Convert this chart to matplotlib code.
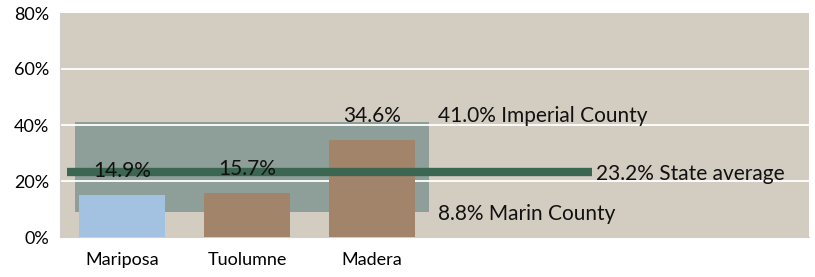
import matplotlib.pyplot as plt
import matplotlib.patches as patches

# data
counties = ["Mariposa", "Tuolumne", "Madera"]
rates = [14.9, 15.7, 34.6]
bar_colors = ["#a3c1e0", "#a2846a", "#a2846a"]
state_avg = 23.2
range_low = 8.8
range_high = 41.0
yticks = [0, 20, 40, 60, 80]

plt.rcParams['font.family'] = ['Lato', 'DejaVu Sans']

fig = plt.figure(figsize=(8.15, 2.77), dpi=100)
ax = fig.add_axes([60/815, 40/277, 749/815, 224/277])
ax.set_facecolor("#d3ccc0")

n_slots = 6
ax.set_xlim(-0.5, n_slots - 0.5)
ax.set_ylim(0, 80)

# min/max range box
box = patches.Rectangle((-0.38, range_low), 2.837, range_high - range_low,
                        facecolor="#8e9e98", edgecolor="none", zorder=1)
ax.add_patch(box)

for y in yticks[1:-1]:
    ax.axhline(y, color="white", lw=1.3, zorder=2)

x = list(range(len(counties)))
ax.bar(x, rates, width=0.69, color=bar_colors, zorder=3)

ax.plot([-0.444, 3.76], [state_avg, state_avg], color="#3a6652", lw=6,
        solid_capstyle="butt", zorder=4)

for xi, v in zip(x, rates):
    ax.annotate(f"{v:.1f}%", (xi, v), xytext=(0, 10), textcoords="offset points",
                ha="center", va="bottom", fontsize=15, color="#111111", zorder=5)

ax.text(2.53, range_high + 2.3, f"{range_high:.1f}% Imperial County",
        ha="left", va="center", fontsize=15, color="#111111")
ax.text(3.79, state_avg - 0.8, f"{state_avg:.1f}% State average",
        ha="left", va="center", fontsize=15, color="#111111")
ax.text(2.53, range_low - 0.7, f"{range_low:.1f}% Marin County",
        ha="left", va="center", fontsize=15, color="#111111")

ax.set_yticks(yticks)
ax.set_yticklabels([f"{t}%" for t in yticks], fontsize=13)
ax.set_xticks(x)
ax.set_xticklabels(counties, fontsize=13)
ax.tick_params(axis="y", length=0, pad=8)
ax.tick_params(axis="x", length=0, pad=11)

for s in ["top", "right"]:
    ax.spines[s].set_visible(False)
ax.spines["left"].set_color("#cfcfcf")
ax.spines["bottom"].set_color("#cfcfcf")

fig.savefig("out.png", dpi=100)
